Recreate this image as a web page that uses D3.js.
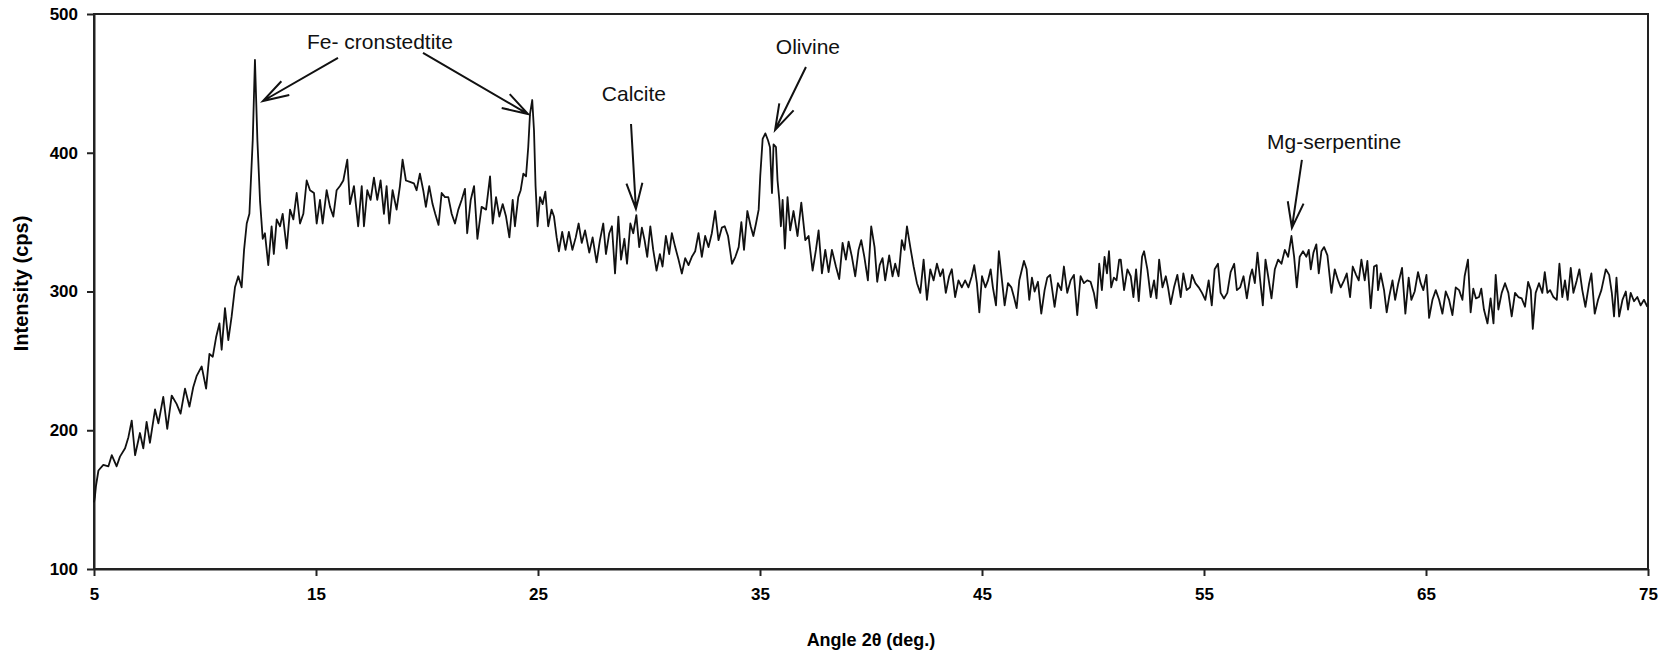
<!DOCTYPE html>
<html>
<head>
<meta charset="utf-8">
<script src="https://cdn.jsdelivr.net/npm/d3@7"></script>
<style>
  body { margin: 0; background: #fff; }
  svg { display: block; font-family: "Liberation Sans", Arial, sans-serif; }
  .tick text { font-weight: bold; font-size: 17px; fill: #000; }
  .note { font-size: 21px; fill: #111; }
  .title { font-weight: bold; fill: #000; }
</style>
</head>
<body>
<div id="chart"></div>
<script>
  // угол 2θ, град.
  const angle = [
    5.0, 5.04, 5.09, 5.2, 5.42, 5.65, 5.8, 6.02, 6.17, 6.4, 6.55, 6.7, 6.85, 7.07, 7.22, 7.37, 7.52, 7.75, 7.9, 8.12,
    8.3, 8.5, 8.72, 8.9, 9.1, 9.3, 9.47, 9.62, 9.85, 10.05, 10.2, 10.35, 10.5, 10.65, 10.75, 10.9, 11.05, 11.2, 11.35, 11.5,
    11.65, 11.76, 11.88, 12.0, 12.15, 12.25, 12.36, 12.48, 12.6, 12.7, 12.85, 13.0, 13.1, 13.23, 13.38, 13.5, 13.68, 13.83, 13.98, 14.13,
    14.28, 14.43, 14.58, 14.73, 14.91, 15.03, 15.18, 15.3, 15.48, 15.63, 15.78, 15.93, 16.08, 16.23, 16.41, 16.53, 16.71, 16.9, 17.06, 17.16,
    17.31, 17.46, 17.61, 17.76, 17.91, 18.06, 18.18, 18.3, 18.45, 18.63, 18.78, 18.9, 19.05, 19.23, 19.41, 19.53, 19.68, 19.83, 19.95, 20.1,
    20.25, 20.37, 20.52, 20.66, 20.81, 20.96, 21.11, 21.26, 21.41, 21.56, 21.71, 21.81, 21.97, 22.12, 22.27, 22.46, 22.66, 22.84, 22.96, 23.11,
    23.26, 23.41, 23.56, 23.71, 23.86, 23.96, 24.11, 24.22, 24.34, 24.46, 24.56, 24.64, 24.74, 24.82, 24.89, 24.98, 25.09, 25.21, 25.33, 25.46,
    25.61, 25.72, 25.84, 25.94, 26.09, 26.24, 26.39, 26.55, 26.7, 26.83, 26.97, 27.12, 27.31, 27.46, 27.64, 27.79, 27.94,
    28.06, 28.21, 28.33, 28.47, 28.62, 28.74, 28.89, 29.01, 29.16, 29.29, 29.43, 29.56, 29.68, 29.8, 29.92, 30.06, 30.19, 30.34, 30.49, 30.61,
    30.76, 30.91, 31.03, 31.18, 31.33, 31.48, 31.63, 31.78, 31.93, 32.08, 32.23, 32.38, 32.53, 32.68, 32.83, 32.98, 33.13, 33.28, 33.41, 33.56,
    33.74, 33.89, 34.04, 34.16, 34.28, 34.43, 34.58, 34.7, 34.82, 34.94, 35.01, 35.12, 35.24, 35.36, 35.45, 35.54, 35.61, 35.72, 35.79, 35.87,
    35.94, 36.02, 36.12, 36.24, 36.36, 36.51, 36.69, 36.86, 37.04, 37.19, 37.37, 37.52, 37.64, 37.79, 37.94, 38.09, 38.24, 38.42, 38.57, 38.72,
    38.87, 38.99, 39.14, 39.29, 39.44, 39.56, 39.7,
    39.86, 40.01, 40.16, 40.28, 40.39, 40.52, 40.64, 40.82, 40.97, 41.09, 41.24, 41.39, 41.51, 41.62, 41.77, 41.92, 42.07, 42.22, 42.37, 42.52,
    42.67, 42.82, 42.97, 43.12, 43.24, 43.37, 43.52, 43.64, 43.79, 43.94, 44.09, 44.24, 44.39, 44.54, 44.65, 44.77, 44.88, 45.0, 45.15, 45.27,
    45.39, 45.49, 45.63, 45.76, 45.9, 46.02, 46.17, 46.32, 46.44, 46.56, 46.68, 46.8, 46.89, 47.01, 47.13, 47.25, 47.37, 47.52, 47.67, 47.82,
    47.94, 48.07, 48.27, 48.42, 48.57, 48.69, 48.84, 48.99, 49.14, 49.29, 49.44, 49.59, 49.74, 49.89, 50.04, 50.16, 50.28, 50.4, 50.52, 50.63,
    50.72, 50.82, 50.94, 51.06, 51.18,
    51.25, 51.4, 51.55, 51.7, 51.82, 51.94, 52.06, 52.21, 52.3, 52.45, 52.6, 52.75, 52.86, 52.98, 53.13, 53.28, 53.38, 53.5, 53.65, 53.8,
    53.95, 54.07, 54.22, 54.37, 54.46, 54.61, 54.76, 54.91, 55.06, 55.21, 55.35, 55.48, 55.63, 55.75, 55.9, 56.05, 56.2, 56.36, 56.48, 56.63,
    56.78, 56.93, 57.08, 57.17, 57.29, 57.41, 57.53, 57.65, 57.77, 57.89, 58.04, 58.19, 58.34, 58.49, 58.64, 58.79, 58.94, 59.06, 59.18, 59.31,
    59.46, 59.61, 59.72, 59.81, 59.93, 60.06, 60.17, 60.29, 60.41, 60.56, 60.74, 60.89, 61.04, 61.16, 61.31, 61.43, 61.58, 61.7, 61.85, 61.97,
    62.09, 62.24, 62.36, 62.51, 62.66, 62.78,
    62.84, 62.96, 63.11, 63.23, 63.34, 63.49, 63.61, 63.74, 63.92, 64.07, 64.22, 64.34, 64.49, 64.64, 64.76, 64.88, 65.02, 65.14, 65.29, 65.44,
    65.59, 65.74, 65.89, 66.04, 66.19, 66.34, 66.49, 66.64, 66.74, 66.89, 67.01, 67.13, 67.25, 67.39, 67.49, 67.61, 67.77, 67.91, 68.04, 68.14,
    68.26, 68.41, 68.56, 68.71, 68.86, 69.01, 69.16, 69.31, 69.46, 69.6, 69.72, 69.81, 69.94, 70.09, 70.24, 70.35, 70.47, 70.59, 70.74, 70.89,
    71.01, 71.14, 71.26, 71.38, 71.52, 71.64, 71.79, 71.91, 72.04, 72.18, 72.34, 72.45, 72.6, 72.75, 72.9, 73.1, 73.25, 73.37, 73.47, 73.58,
    73.7, 73.85, 74.0, 74.1, 74.22, 74.37, 74.52, 74.67, 74.82, 74.97
  ];

  // интенсивность, cps
  const intensity = [
    148, 152, 160, 171, 175, 174, 182, 174, 181, 187, 195, 207, 182, 198, 187, 206, 191, 215, 205, 224,
    201, 225, 219, 212, 230, 217, 231, 239, 246, 230, 255, 253, 267, 277, 258, 288, 265, 282, 303, 311,
    303, 330, 349, 356, 409, 467, 409, 365, 338, 342, 319, 347, 327, 352, 347, 356, 331, 359, 352, 371,
    349, 356, 380, 373, 371, 349, 366, 349, 373, 361, 354, 373, 376, 380, 395, 363, 376, 347, 376, 347,
    373, 366, 382, 366, 380, 356, 376, 349, 373, 359, 376, 395, 380, 379, 378, 373, 385, 373, 361, 376,
    363, 356, 348, 371, 368, 368, 356, 349, 359, 366, 374, 342, 366, 376, 338, 361, 359, 383, 349, 368,
    354, 363, 354, 339, 366, 347, 368, 373, 385, 383, 404, 428, 438, 416, 376, 347, 368, 363, 372, 347,
    359, 354, 339, 329, 343, 330, 343, 330, 339, 349, 335, 344, 328, 339, 321, 337, 349,
    327, 342, 347, 313, 354, 323, 338, 320, 349, 342, 355, 332, 346, 337, 325, 347, 330, 315, 327, 318,
    340, 327, 342, 332, 323, 313, 324, 319, 325, 329, 342, 325, 340, 332, 342, 358, 337, 346, 347, 340,
    320, 325, 332, 350, 330, 358, 347, 340, 349, 359, 383, 410, 414, 409, 404, 371, 406, 404, 380, 366,
    347, 366, 331, 368, 344, 358, 340, 364, 337, 340, 315, 330, 344, 313, 330, 314, 330, 318, 309, 335,
    323, 336, 325, 311, 330, 337, 325,
    308, 347, 332, 307, 319, 324, 308, 326, 311, 320, 311, 337, 330, 347, 332, 318, 306, 299, 323, 294,
    316, 308, 320, 311, 316, 299, 311, 316, 296, 308, 303, 308, 303, 311, 319, 306, 285, 311, 303, 308,
    316, 303, 290, 329, 308, 290, 306, 303, 296, 288, 308, 316, 322, 316, 294, 310, 300, 307, 284, 301,
    310, 312, 289, 306, 301, 318, 299, 308, 312, 283, 311, 306, 308, 307, 299, 288, 320, 301, 325, 313,
    329, 303, 310, 308, 323,
    323, 301, 316, 311, 296, 316, 293, 325, 329, 316, 296, 308, 295, 323, 303, 311, 303, 291, 303, 312,
    296, 313, 301, 303, 312, 306, 303, 299, 294, 308, 290, 316, 320, 299, 295, 299, 314, 320, 301, 303,
    311, 295, 311, 316, 306, 328, 308, 290, 323, 311, 295, 316, 323, 320, 330, 325, 340, 325, 303, 325,
    329, 325, 330, 316, 328, 334, 313, 329, 332, 326, 299, 316, 308, 303, 308, 313, 296, 318, 312, 308,
    323, 308, 322, 288, 318, 319,
    301, 313, 301, 285, 296, 308, 294, 305, 317, 284, 310, 294, 300, 314, 306, 301, 312, 281, 294, 301,
    294, 284, 300, 294, 283, 303, 301, 294, 311, 323, 285, 302, 295, 296, 302, 287, 277, 295, 277, 312,
    287, 299, 306, 299, 282, 299, 296, 295, 289, 307, 301, 273, 299, 306, 299, 314, 299, 301, 296, 294,
    320, 296, 308, 294, 317, 299, 308, 316, 301, 289, 305, 313, 284, 294, 301, 316, 312, 299, 282, 310,
    282, 294, 300, 287, 299, 293, 296, 290, 294, 289
  ];

  const xTicks = [5, 15, 25, 35, 45, 55, 65, 75];
  const yTicks = [100, 200, 300, 400, 500];

  // подписи пиков: текст, точка текста [угол, cps], стрелки [откуда, куда]
  const noteLabels = ["Fe- cronstedtite", "Calcite", "Olivine", "Mg-serpentine"];
  const noteAt = [[17.88, 474.8], [29.32, 437.3], [37.16, 471.2], [60.86, 402.7]];
  const noteArrows = [
    [[[15.99, 468.3], [12.61, 437.3]], [[19.82, 471.9], [24.55, 427.9]]],
    [[[29.19, 420.7], [29.41, 359.5]]],
    [[[37.07, 461.8], [35.68, 416.4]]],
    [[[59.41, 394.8], [58.96, 345.8]]]
  ];

  let width = 1671, height = 653;
  let margin = { left: 94, right: 23, top: 14, bottom: 84 };

  let svg = d3.select('#chart').append('svg')
              .attr('width', width).attr('height', height);

  let x = d3.scaleLinear().domain([5, 75]).range([margin.left, width - margin.right]);
  let y = d3.scaleLinear().domain([100, 500]).range([height - margin.bottom, margin.top]);

  // рамка
  svg.append('rect')
     .attr('x', x(5)).attr('y', y(500))
     .attr('width', x(75) - x(5)).attr('height', y(100) - y(500))
     .attr('fill', 'none').attr('stroke', '#222').attr('stroke-width', 2);

  // оси
  let gx = svg.append('g').attr('transform', `translate(0,${y(100)})`)
     .call(d3.axisBottom(x).tickValues(xTicks).tickSize(7).tickPadding(12).tickSizeOuter(0));
  let gy = svg.append('g').attr('transform', `translate(${x(5)},0)`)
     .call(d3.axisLeft(y).tickValues(yTicks).tickSize(7).tickPadding(9).tickSizeOuter(0));
  [gx, gy].forEach(g => {
    g.select('.domain').attr('stroke', '#222').attr('stroke-width', 2);
    g.selectAll('.tick line').attr('stroke', '#222').attr('stroke-width', 2);
    g.selectAll('.tick text').attr('font-family', null).attr('font-size', null);
  });

  // названия осей
  svg.append('text').attr('class', 'title')
     .style('font-size', '18px')
     .attr('x', (x(5) + x(75)) / 2).attr('y', 646)
     .attr('text-anchor', 'middle')
     .text('Angle 2θ (deg.)');
  svg.append('text').attr('class', 'title')
     .style('font-size', '20px')
     .attr('transform', `translate(28,${(y(100) + y(500)) / 2 - 8}) rotate(-90)`)
     .attr('text-anchor', 'middle')
     .text('Intensity (cps)');

  // дифрактограмма
  let line = d3.line().x((d, i) => x(angle[i])).y(d => y(d));
  svg.append('path').datum(intensity)
     .attr('d', line)
     .attr('fill', 'none').attr('stroke', '#111').attr('stroke-width', 1.8)
     .attr('stroke-linejoin', 'round');

  // подписи и стрелки
  svg.selectAll('.note').data(noteLabels).enter().append('text')
     .attr('class', 'note')
     .attr('x', (d, i) => x(noteAt[i][0])).attr('y', (d, i) => y(noteAt[i][1]))
     .attr('text-anchor', 'middle')
     .text(d => d);

  let arrows = noteArrows.flat();
  svg.selectAll('.arrow').data(arrows).enter().append('path')
     .attr('class', 'arrow')
     .attr('fill', 'none').attr('stroke', '#111').attr('stroke-width', 2)
     .attr('d', arrowPath);

  function arrowPath(d) {
    let [x0, y0] = [x(d[0][0]), y(d[0][1])];
    let [x1, y1] = [x(d[1][0]), y(d[1][1])];
    let a = Math.atan2(y0 - y1, x0 - x1), len = 27, spread = 0.3;
    let p1 = [x1 + len * Math.cos(a - spread), y1 + len * Math.sin(a - spread)];
    let p2 = [x1 + len * Math.cos(a + spread), y1 + len * Math.sin(a + spread)];
    return `M${x0},${y0}L${x1},${y1}M${p1}L${x1},${y1}L${p2}`;
  }
</script>
</body>
</html>
